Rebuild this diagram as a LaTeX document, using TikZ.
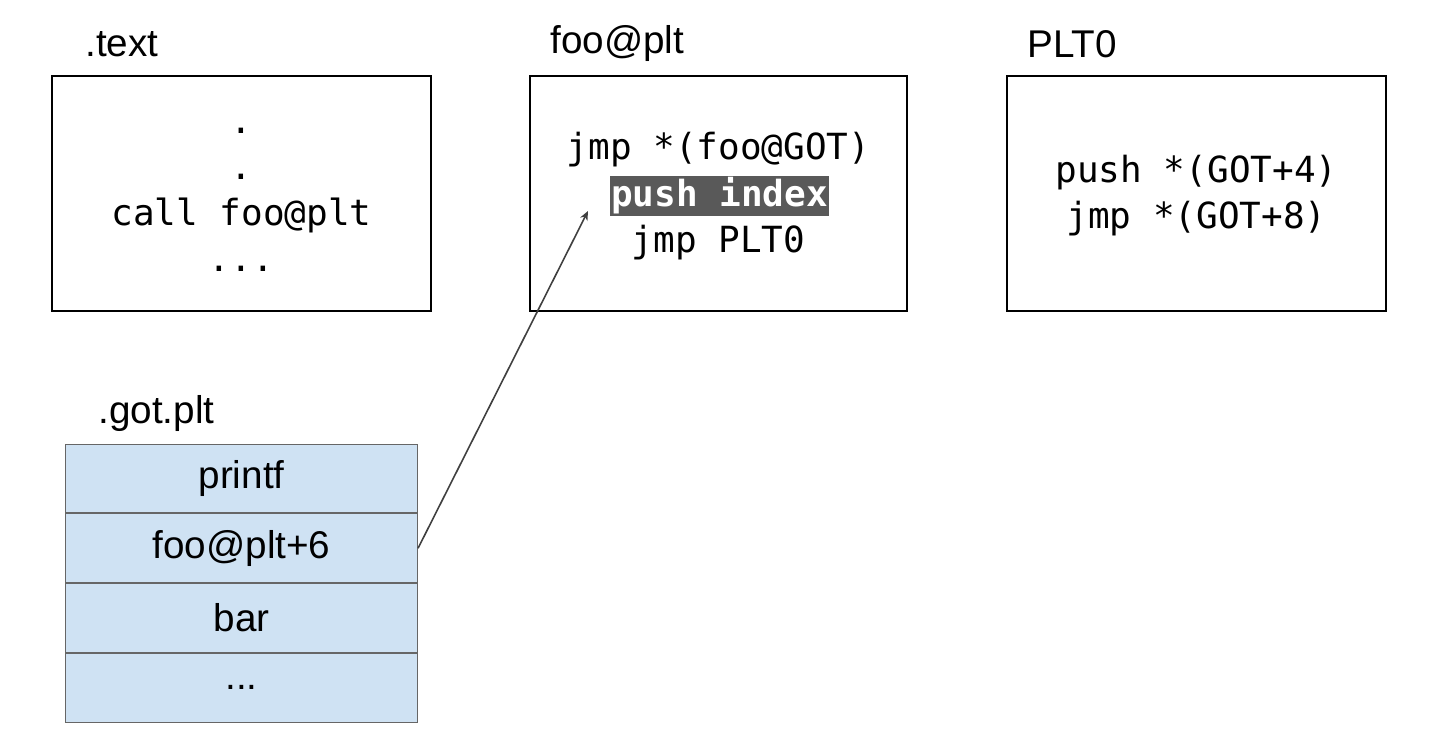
\documentclass[tikz,border=0pt]{standalone}
\usepackage{fontspec}
\setmainfont{Liberation Sans}
\newfontfamily\codefont{DejaVu Sans Mono}
\usetikzlibrary{arrows.meta}
\definecolor{gotfill}{HTML}{CFE2F3}
\begin{document}
\begin{tikzpicture}[x=0.75pt,y=-0.75pt,
  box/.style={draw=black,line width=0.9pt},
  title/.style={anchor=west,font=\fontsize{29}{34}\selectfont,inner sep=0},
  code/.style={font=\codefont\fontsize{27}{34.5}\selectfont,align=center},
  cell/.style={draw=gray!80!black,fill=gotfill,line width=0.8pt,minimum width=352*0.75pt,minimum height=68.75*0.75pt,font=\fontsize{29}{34}\selectfont,inner sep=0}]
\useasboundingbox (0,0) rectangle (1432,746);
\draw[box] (52,76) rectangle (431,311);
\draw[box] (530,76) rectangle (907,311);
\draw[box] (1007,76) rectangle (1386,311);
\node[title] (t1) at (85,44) {.text};
\node[title] (t2) at (550,44) {foo@plt};
\node[title] (t3) at (1027,44) {PLT0};
\node[title] (t4) at (98,413) {.got.plt};
\node[code] (c1) at (241.5,200) {.\\.\\call foo@plt\\...};
\node[code,anchor=center] (j1) at (718.5,150) {jmp *(foo@GOT)};
\node[code,fill=gray!70!black,text=white,inner sep=1pt,font=\codefont\bfseries\fontsize{27}{34.5}\selectfont] (pi) at (719.5,196) {push index};
\node[code] (j2) at (718.5,243) {jmp PLT0};
\node[code] (p0) at (1196.5,196) {push *(GOT+4)\\jmp *(GOT+8)};
\node[cell,anchor=north west] (g1) at (65,443.5) {printf};
\node[cell,anchor=north] (g2) at (g1.south) {foo@plt+6};
\node[cell,anchor=north] (g3) at (g2.south) {bar};
\node[cell,anchor=north] (g4) at (g3.south) {...};
\draw[-{Stealth[length=7pt,width=6pt]},draw=gray!50!black,line width=1.2pt] (g2.east) -- (588,211);
\end{tikzpicture}
\end{document}
